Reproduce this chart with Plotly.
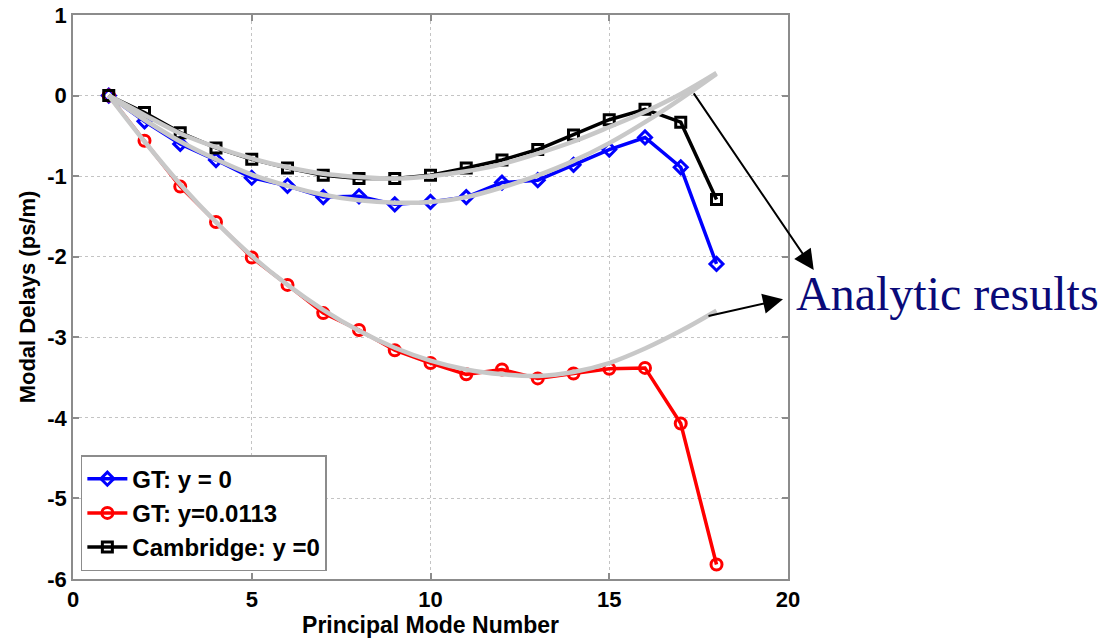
import plotly.graph_objects as go

# ---------------- data ----------------
modes = list(range(1, 19))

gt_y0 = [0.0, -0.32, -0.60, -0.80, -1.02, -1.12, -1.26, -1.25, -1.35, -1.32,
         -1.26, -1.08, -1.05, -0.86, -0.67, -0.52, -0.89, -2.09]
gt_y0113 = [0.0, -0.56, -1.13, -1.57, -2.01, -2.35, -2.70, -2.91, -3.16, -3.32,
            -3.46, -3.40, -3.51, -3.45, -3.39, -3.38, -4.07, -5.82]
cambridge_y0 = [0.0, -0.21, -0.46, -0.65, -0.79, -0.90, -0.99, -1.03, -1.03, -0.99,
                -0.90, -0.80, -0.67, -0.49, -0.30, -0.17, -0.33, -1.29]

# analytic results (grey curves), read at each mode number
analytic_x = list(range(1, 19))
analytic_cambridge = [0.0, -0.24, -0.47, -0.64, -0.78, -0.89, -0.97, -1.01, -1.03, -1.00,
                      -0.94, -0.85, -0.72, -0.57, -0.39, -0.20, 0.02, 0.28]
analytic_gt_y0 = [0.0, -0.30, -0.57, -0.79, -0.98, -1.12, -1.23, -1.30, -1.33, -1.32,
                  -1.26, -1.14, -0.99, -0.81, -0.59, -0.33, -0.04, 0.27]
analytic_gt_y0113 = [0.0, -0.57, -1.10, -1.57, -1.99, -2.35, -2.66, -2.92, -3.13, -3.29,
                     -3.40, -3.46, -3.48, -3.43, -3.32, -3.14, -2.92, -2.67]

x_ticks = [0, 5, 10, 15, 20]
x_tick_labels = ["0", "5", "10", "15", "20"]
y_ticks = [1, 0, -1, -2, -3, -4, -5, -6]
y_tick_labels = ["1", "0", "-1", "-2", "-3", "-4", "-5", "-6"]

series_names = ["GT: y = 0", "GT: y=0.0113", "Cambridge: y =0"]
x_title = "Principal Mode Number"
y_title = "Modal Delays (ps/m)"
note_text = "Analytic results"

# ---------------- figure ----------------
SANS = "Liberation Sans, Arial, sans-serif"
SERIF = "Liberation Serif, Times New Roman, serif"

fig = go.Figure()

fig.add_trace(go.Scatter(
    x=modes, y=gt_y0, name=series_names[0], mode="lines+markers",
    line=dict(color="#0000ff", width=3.5),
    marker=dict(symbol="diamond-open", size=10, color="#0000ff", line=dict(width=3, color="#0000ff")),
))
fig.add_trace(go.Scatter(
    x=modes, y=gt_y0113, name=series_names[1], mode="lines+markers",
    line=dict(color="#ff0000", width=3.5),
    marker=dict(symbol="circle-open", size=11, color="#ff0000", line=dict(width=3, color="#ff0000")),
))
fig.add_trace(go.Scatter(
    x=modes, y=cambridge_y0, name=series_names[2], mode="lines+markers",
    line=dict(color="#000000", width=3.5),
    marker=dict(symbol="square-open", size=10, color="#000000", line=dict(width=3, color="#000000")),
))

for ys in (analytic_cambridge, analytic_gt_y0, analytic_gt_y0113):
    fig.add_trace(go.Scatter(
        x=analytic_x, y=ys, mode="lines", showlegend=False, hoverinfo="skip",
        line=dict(color="#c8c8c8", width=4.5, shape="spline", smoothing=1.0),
    ))

axis_common = dict(
    showline=True, linecolor="#8c8c8c", linewidth=1.5, mirror="ticks",
    ticks="inside", ticklen=6, tickcolor="#8c8c8c", tickwidth=1.5,
    showgrid=True, gridcolor="#c4c4c4", gridwidth=1, griddash="dot",
    zeroline=False, automargin=False,
    tickfont=dict(family=SANS, size=22, color="#000000", weight="bold"),
)

fig.update_xaxes(
    range=[0, 20], tickmode="array", tickvals=x_ticks, ticktext=x_tick_labels,
    title=dict(text=x_title, font=dict(family=SANS, size=23, color="#000000", weight="bold"), standoff=4),
    **axis_common,
)
fig.update_yaxes(
    range=[-6, 1], tickmode="array", tickvals=y_ticks, ticktext=y_tick_labels,
    title=dict(text=y_title, font=dict(family=SANS, size=22, color="#000000", weight="bold"), standoff=6),
    **axis_common,
)

fig.update_layout(
    width=1102, height=641,
    margin=dict(l=73, r=314, t=15, b=62, pad=0),
    paper_bgcolor="#ffffff", plot_bgcolor="#ffffff",
    showlegend=True,
    legend=dict(
        x=0.011, y=0.014, xanchor="left", yanchor="bottom",
        bgcolor="#ffffff", bordercolor="#8c8c8c", borderwidth=1.5,
        font=dict(family=SANS, size=24, color="#000000", weight="bold"),
        tracegroupgap=0, itemwidth=40,
    ),
    annotations=[
        dict(xref="paper", yref="paper", x=1.036, y=0.548, ax=-121, ay=-178,
             axref="pixel", ayref="pixel", text="", showarrow=True,
             arrowhead=2, arrowsize=2, arrowwidth=2, arrowcolor="#000000"),
        dict(xref="paper", yref="paper", x=0.993, y=0.496, ax=-76, ay=17,
             axref="pixel", ayref="pixel", text="", showarrow=True,
             arrowhead=2, arrowsize=2, arrowwidth=2, arrowcolor="#000000"),
        dict(xref="paper", yref="paper", x=1.008, y=0.507, xanchor="left", yanchor="middle",
             text=note_text, showarrow=False,
             font=dict(family=SERIF, size=48, color="#0a0a78")),
    ],
)

fig.write_html("out.html")
